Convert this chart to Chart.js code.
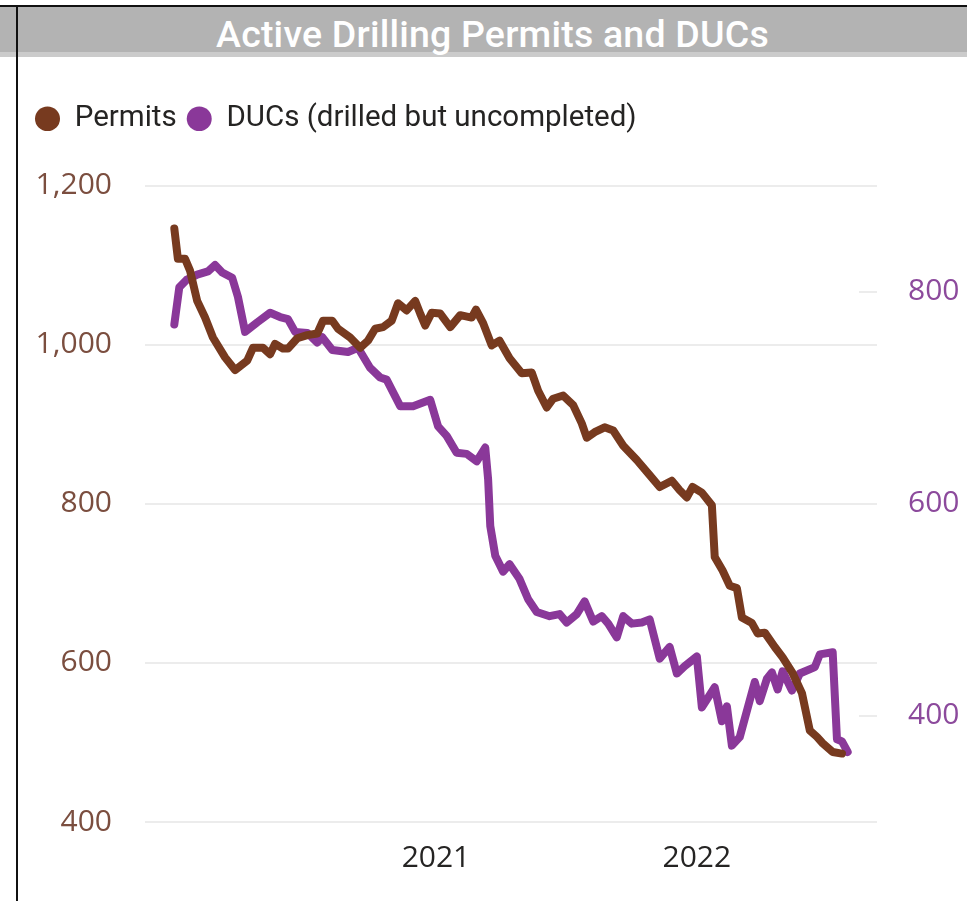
<!DOCTYPE html>
<html>
<head>
<meta charset="utf-8">
<script src="https://cdn.jsdelivr.net/npm/chart.js@4.4.1/dist/chart.umd.min.js"></script>
<style>
  html, body { margin:0; padding:0; background:#ffffff; width:967px; height:901px; overflow:hidden; }
  body { position:relative; }
  #band { position:absolute; left:0; top:7px; width:967px; height:45px; background:#b3b3b3; border-bottom:5px solid #cbcbcb; }
  #title { position:absolute; left:18px; right:0; top:12px; height:45px; line-height:45px; text-align:center;
           color:#ffffff; font-family:Roboto, "Open Sans", sans-serif; font-weight:500; font-size:37.5px; letter-spacing:0.2px; }
  #topline { position:absolute; left:0; top:5px; width:967px; height:2px; background:#111111; }
  #vline { position:absolute; left:16px; top:5px; width:2px; height:896px; background:#111111; }
  #wrap { position:absolute; left:0; top:0; width:967px; height:901px; }
</style>
</head>
<body>
<div id="band"></div>
<div id="title">Active Drilling Permits and DUCs</div>
<div id="wrap"><canvas id="c" width="967" height="901"></canvas></div>
<div id="topline"></div>
<div id="vline"></div>
<script>
// ---- data ----
const permitDates = ['2020-01-01','2020-01-06','2020-01-16','2020-01-23','2020-02-02','2020-02-13','2020-02-24','2020-03-12','2020-03-26','2020-04-12',
  '2020-04-20','2020-05-04','2020-05-14','2020-05-21','2020-06-01','2020-06-08','2020-06-21','2020-07-05','2020-07-19','2020-07-27',
  '2020-08-09','2020-08-17','2020-09-03','2020-09-17','2020-09-28','2020-10-08','2020-10-19','2020-10-31','2020-11-09','2020-11-21',
  '2020-12-03','2020-12-10','2020-12-17','2020-12-26','2021-01-07','2021-01-21','2021-02-04','2021-02-20','2021-02-26','2021-03-08',
  '2021-03-20','2021-03-31','2021-04-14','2021-05-01','2021-05-15','2021-05-24','2021-06-05','2021-06-14','2021-06-28','2021-07-12',
  '2021-07-24','2021-07-31','2021-08-11','2021-08-25','2021-09-06','2021-09-20','2021-10-09','2021-10-27','2021-11-10','2021-11-27',
  '2021-12-08','2021-12-18','2021-12-26','2022-01-08','2022-01-22','2022-01-26','2022-02-06','2022-02-16','2022-02-26','2022-03-05',
  '2022-03-19','2022-03-27','2022-04-06','2022-04-20','2022-05-01','2022-05-15','2022-05-28','2022-06-08','2022-06-18','2022-06-26',
  '2022-07-10','2022-07-23'];
const permitValues = [1146,1108,1108,1093,1055,1034,1009,984,968,980,
  996,996,988,1001,995,995,1008,1012,1014,1030,
  1030,1020,1009,996,1005,1020,1022,1030,1052,1043,
  1055,1039,1024,1040,1039,1022,1037,1034,1044,1027,
  999,1005,983,964,965,942,921,932,936,924,
  901,883,890,896,892,873,855,836,821,829,
  817,808,821,814,798,733,716,697,694,657,
  650,637,638,620,607,587,562,515,507,499,
  488,486];

const ducDates = ['2020-01-01','2020-01-08','2020-01-18','2020-02-02','2020-02-17','2020-02-27','2020-03-08','2020-03-22','2020-03-30','2020-04-09',
  '2020-04-26','2020-05-14','2020-05-28','2020-06-08','2020-06-18','2020-07-05','2020-07-19','2020-07-26','2020-08-09','2020-08-31',
  '2020-09-14','2020-10-01','2020-10-15','2020-10-24','2020-11-12','2020-11-30','2020-12-24','2021-01-04','2021-01-16','2021-01-30',
  '2021-02-13','2021-02-27','2021-03-11','2021-03-15','2021-03-18','2021-03-25','2021-04-05','2021-04-14','2021-04-28','2021-05-10',
  '2021-05-22','2021-06-09','2021-06-23','2021-07-03','2021-07-17','2021-07-28','2021-08-09','2021-08-21','2021-08-30','2021-09-11',
  '2021-09-20','2021-10-02','2021-10-16','2021-10-27','2021-11-10','2021-11-24','2021-12-04','2021-12-15','2022-01-01','2022-01-08',
  '2022-01-26','2022-02-05','2022-02-12','2022-02-19','2022-03-02','2022-03-23','2022-03-30','2022-04-09','2022-04-16','2022-04-24',
  '2022-05-01','2022-05-14','2022-05-25','2022-06-15','2022-06-22','2022-07-10','2022-07-16','2022-07-23','2022-07-31'];
const ducValues = [769,804,811,816,819,825,818,813,795,762,
  771,780,776,774,762,761,752,757,745,743,
  747,728,719,717,692,692,698,673,664,648,
  647,640,653,623,579,551,536,543,529,510,
  498,494,496,488,496,508,489,494,487,474,
  494,487,488,491,454,465,440,447,456,408,
  427,395,409,372,380,432,414,435,441,425,
  442,424,440,446,458,460,378,376,366];

const seriesNames = ['Permits', 'DUCs (drilled but uncompleted)'];
const leftTicks = [400, 600, 800, 1000, 1200];
const rightTicks = [400, 600, 800];
const yearTickDates = ['2021-01-01', '2022-01-01'];
const xRange = ['2019-11-21', '2022-09-10'];

// ---- styles ----
const PERMIT_COLOR = '#773a1f';
const DUC_COLOR = '#8a3899';
const GRID_COLOR = '#ececec';
const TICK_FONT = { family: '"Open Sans", "Noto Sans", sans-serif', size: 30 };

const toXY = (dates, vals) => dates.map((d, i) => ({ x: Date.parse(d), y: vals[i] }));

const legendSpacer = {
  id: 'legendSpacer',
  beforeInit(chart) {
    const orig = chart.legend.fit;
    chart.legend.fit = function () { orig.call(this); this.height += 42; };
  }
};

const rightStubs = {
  id: 'rightStubs',
  beforeDatasetsDraw(chart) {
    const s = chart.scales.y1, a = chart.chartArea, ctx = chart.ctx;
    ctx.save();
    ctx.strokeStyle = GRID_COLOR;
    ctx.lineWidth = 2;
    s.ticks.forEach(t => {
      const y = Math.round(s.getPixelForValue(t.value));
      ctx.beginPath(); ctx.moveTo(a.right - 18, y); ctx.lineTo(a.right, y); ctx.stroke();
    });
    ctx.restore();
  }
};

new Chart(document.getElementById('c'), {
  type: 'line',
  data: {
    datasets: [
      { label: seriesNames[0], data: toXY(permitDates, permitValues), yAxisID: 'y',
        borderColor: PERMIT_COLOR, backgroundColor: PERMIT_COLOR, borderWidth: 8,
        pointRadius: 0, tension: 0, borderJoinStyle: 'round', borderCapStyle: 'round' },
      { label: seriesNames[1], data: toXY(ducDates, ducValues), yAxisID: 'y1',
        borderColor: DUC_COLOR, backgroundColor: DUC_COLOR, borderWidth: 8,
        pointRadius: 0, tension: 0, borderJoinStyle: 'round', borderCapStyle: 'round' }
    ]
  },
  options: {
    responsive: false,
    animation: false,
    layout: { padding: { top: 94, left: 25, right: 0, bottom: 0 } },
    plugins: {
      tooltip: { enabled: false },
      legend: {
        display: true, position: 'top', align: 'start',
        labels: {
          usePointStyle: true, pointStyle: 'circle', pointStyleWidth: 25, boxHeight: 17.5,
          padding: 10, color: '#252423',
          font: { family: 'Roboto, "Open Sans", sans-serif', size: 29.5 },
          generateLabels(chart) {
            const items = Chart.defaults.plugins.legend.labels.generateLabels(chart);
            items.forEach(it => { it.lineWidth = 0; });
            return items;
          }
        }
      }
    },
    scales: {
      x: {
        type: 'linear',
        min: Date.parse(xRange[0]), max: Date.parse(xRange[1]),
        grid: { display: false }, border: { display: false },
        afterBuildTicks: s => { s.ticks = yearTickDates.map(d => ({ value: Date.parse(d) })); },
        afterFit: s => { s.height = 79; },
        ticks: { color: '#252423', font: TICK_FONT, padding: 10, maxRotation: 0,
                 callback: v => String(new Date(v).getUTCFullYear()) }
      },
      y: {
        position: 'left', min: 400, max: 1200,
        grid: { color: GRID_COLOR, lineWidth: 2, drawTicks: false }, border: { display: false },
        afterBuildTicks: s => { s.ticks = leftTicks.map(v => ({ value: v })); },
        afterFit: s => { s.width = 120; },
        ticks: { color: '#7b4e3f', font: TICK_FONT, padding: 33,
                 callback: v => v.toLocaleString('en-US') }
      },
      y1: {
        position: 'right', min: 300, max: 900,
        grid: { drawOnChartArea: false, drawTicks: false }, border: { display: false },
        afterBuildTicks: s => { s.ticks = rightTicks.map(v => ({ value: v })); },
        afterFit: s => { s.width = 90; },
        ticks: { color: '#8c4a9c', font: TICK_FONT, padding: 31,
                 callback: v => v.toLocaleString('en-US') }
      }
    }
  },
  plugins: [legendSpacer, rightStubs]
});
</script>
</body>
</html>
